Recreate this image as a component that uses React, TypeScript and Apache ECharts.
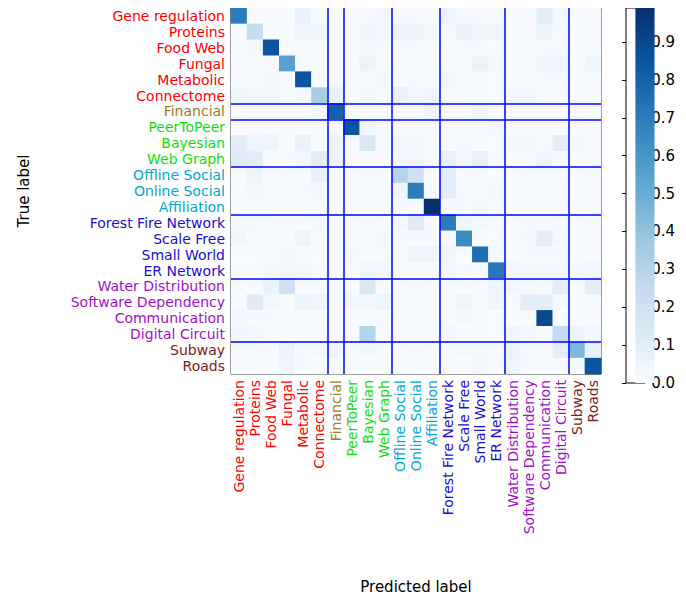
import { useEffect, useRef } from 'react';
import * as echarts from 'echarts';

const labels = [
  'Gene regulation', 'Proteins', 'Food Web', 'Fungal', 'Metabolic', 'Connectome',
  'Financial', 'PeerToPeer', 'Bayesian', 'Web Graph',
  'Offline Social', 'Online Social', 'Affiliation',
  'Forest Fire Network', 'Scale Free', 'Small World', 'ER Network',
  'Water Distribution', 'Software Dependency', 'Communication', 'Digital Circuit',
  'Subway', 'Roads'
];
const groupColors = ['#ff0000', '#9a8020', '#11dd11', '#00a8d8', '#1a0fd0', '#a010c8', '#802020'];
const groupOf = [0, 0, 0, 0, 0, 0, 1, 2, 2, 2, 3, 3, 3, 4, 4, 4, 4, 5, 5, 5, 5, 6, 6];
const boundaries = [6, 7, 10, 13, 17, 21];
const vmax = 0.99;

// sparse rows: [col, value]
const rows: [number, number][][] = [
  [[0, 0.7], [4, 0.07], [9, 0.03], [13, 0.05], [19, 0.1], [20, 0.03]],
  [[1, 0.25], [4, 0.04], [5, 0.05], [8, 0.05], [9, 0.03], [10, 0.06], [11, 0.06], [12, 0.03], [14, 0.08], [15, 0.04], [16, 0.05], [19, 0.06]],
  [[1, 0.02], [2, 0.85], [8, 0.03]],
  [[3, 0.55], [8, 0.06], [15, 0.06], [16, 0.03], [19, 0.05], [20, 0.05], [22, 0.05]],
  [[2, 0.03], [4, 0.85], [9, 0.02], [13, 0.03]],
  [[0, 0.04], [1, 0.03], [2, 0.03], [4, 0.02], [5, 0.35], [6, 0.07], [8, 0.02], [10, 0.08], [11, 0.03], [12, 0.05], [17, 0.03], [18, 0.03]],
  [[5, 0.02], [6, 0.8], [12, 0.05], [15, 0.03]],
  [[7, 0.85], [8, 0.03], [16, 0.04]],
  [[0, 0.1], [1, 0.05], [2, 0.05], [4, 0.07], [6, 0.05], [8, 0.15], [10, 0.03], [11, 0.02], [17, 0.02], [18, 0.03], [20, 0.1], [21, 0.02]],
  [[0, 0.12], [1, 0.1], [4, 0.03], [5, 0.1], [6, 0.05], [10, 0.02], [11, 0.03], [13, 0.08], [14, 0.03], [15, 0.08], [19, 0.04]],
  [[1, 0.05], [5, 0.07], [10, 0.3], [11, 0.2], [13, 0.1]],
  [[1, 0.03], [5, 0.02], [10, 0.04], [11, 0.7], [13, 0.1], [16, 0.02]],
  [[12, 0.99], [15, 0.02]],
  [[0, 0.02], [1, 0.02], [5, 0.02], [10, 0.03], [11, 0.12], [13, 0.7], [14, 0.04], [15, 0.03]],
  [[0, 0.04], [4, 0.05], [9, 0.02], [14, 0.65], [18, 0.02], [19, 0.1], [20, 0.02]],
  [[3, 0.02], [7, 0.02], [11, 0.05], [12, 0.05], [13, 0.04], [15, 0.75], [16, 0.02]],
  [[2, 0.02], [3, 0.03], [4, 0.02], [8, 0.03], [9, 0.03], [13, 0.02], [16, 0.72], [17, 0.03], [18, 0.02], [19, 0.02], [20, 0.02], [21, 0.02], [22, 0.03]],
  [[2, 0.06], [3, 0.2], [8, 0.15], [16, 0.04], [17, 0.03], [18, 0.02], [20, 0.1], [22, 0.1]],
  [[1, 0.12], [2, 0.03], [4, 0.06], [5, 0.05], [7, 0.03], [8, 0.03], [9, 0.05], [14, 0.05], [16, 0.04], [18, 0.1], [19, 0.1], [20, 0.02]],
  [[0, 0.02], [14, 0.02], [19, 0.9]],
  [[0, 0.04], [1, 0.02], [8, 0.3], [13, 0.02], [17, 0.04], [18, 0.02], [20, 0.25], [21, 0.06], [22, 0.03]],
  [[3, 0.06], [5, 0.02], [6, 0.04], [8, 0.02], [14, 0.02], [15, 0.03], [17, 0.06], [20, 0.1], [21, 0.45], [22, 0.08]],
  [[3, 0.05], [15, 0.03], [17, 0.05], [22, 0.85]]
];

const blues = ['#f7fbff', '#deebf7', '#c6dbef', '#9ecae1', '#6baed6', '#4292c6', '#2171b5', '#08519c', '#08306b'];

export default function App() {
  const ref = useRef<HTMLDivElement>(null);

  useEffect(() => {
    if (!ref.current) return;
    const chart = echarts.init(ref.current, null, { renderer: 'svg' });
    const data: number[][] = [];
    rows.forEach((r, i) => {
      const full = new Array(labels.length).fill(0);
      r.forEach(([c, v]) => { full[c] = v; });
      full.forEach((v, j) => data.push([j, i, v]));
    });
    const font = 'DejaVu Sans';
    const labelColor = (idx: number) => groupColors[groupOf[idx]];
    const lineData: any[] = [];
    boundaries.forEach((b) => {
      lineData.push({ xAxis: b });
      lineData.push({ yAxis: b });
    });

    chart.setOption({
      animation: false,
      grid: [
        { left: 217, top: 0, width: 376, height: 376, show: true, borderColor: '#000', borderWidth: 1, backgroundColor: 'transparent' },
        { left: 618, top: 0, width: 20, height: 375, show: true, borderColor: '#000', borderWidth: 1 }
      ],
      xAxis: [
        {
          type: 'category', data: labels, gridIndex: 0, position: 'bottom',
          name: 'Predicted label', nameLocation: 'middle', nameGap: 205,
          nameTextStyle: { fontFamily: font, fontSize: 15, color: '#000' },
          axisLine: { lineStyle: { color: '#000' } },
          axisTick: { inside: true, alignWithLabel: true, length: 4, lineStyle: { color: '#000' } },
          axisLabel: {
            rotate: 90, interval: 0, fontFamily: font, fontSize: 14, margin: 6,
            color: (_v: any, i: number) => labelColor(i)
          },
          splitLine: { show: false }
        },
        { type: 'value', gridIndex: 0, min: 0, max: 23, show: false },
        { type: 'value', gridIndex: 1, show: false, min: 0, max: 1 }
      ],
      yAxis: [
        {
          type: 'category', data: labels, gridIndex: 0, inverse: true,
          name: 'True label', nameLocation: 'middle', nameGap: 200, nameRotate: 90,
          nameTextStyle: { fontFamily: font, fontSize: 15, color: '#000' },
          axisLine: { lineStyle: { color: '#000' } },
          axisTick: { inside: true, alignWithLabel: true, length: 4, lineStyle: { color: '#000' } },
          axisLabel: {
            interval: 0, fontFamily: font, fontSize: 14, margin: 6,
            color: (_v: any, i: number) => labelColor(i)
          }
        },
        { type: 'value', gridIndex: 0, min: 0, max: 23, inverse: true, show: false },
        {
          type: 'value', gridIndex: 1, position: 'right', min: 0, max: vmax, interval: 0.1,
          axisLine: { show: false },
          axisTick: { inside: true, length: 4, lineStyle: { color: '#000' } },
          axisLabel: { fontFamily: font, fontSize: 15, color: '#000', margin: 6, formatter: (v: number) => v.toFixed(1), showMaxLabel: false },
          splitLine: { show: false }
        }
      ],
      visualMap: {
        show: false, min: 0, max: vmax, seriesIndex: 0, dimension: 2,
        inRange: { color: blues }
      },
      series: [
        {
          type: 'heatmap', data, xAxisIndex: 0, yAxisIndex: 0,
          itemStyle: { borderWidth: 0 }, progressive: 0
        },
        {
          type: 'scatter', xAxisIndex: 1, yAxisIndex: 1, data: [], silent: true,
          markLine: {
            symbol: 'none', silent: true, label: { show: false },
            lineStyle: { color: '#0000ff', width: 1.5, type: 'solid' },
            data: lineData
          }
        },
        {
          type: 'bar', xAxisIndex: 2, yAxisIndex: 2, barWidth: '100%', silent: true,
          data: [vmax],
          itemStyle: {
            color: new echarts.graphic.LinearGradient(0, 1, 0, 0,
              blues.map((c, i) => ({ offset: i / (blues.length - 1), color: c })))
          }
        }
      ]
    });
    return () => chart.dispose();
  }, []);

  return <div ref={ref} style={{ width: 670, height: 591 }} />;
}
